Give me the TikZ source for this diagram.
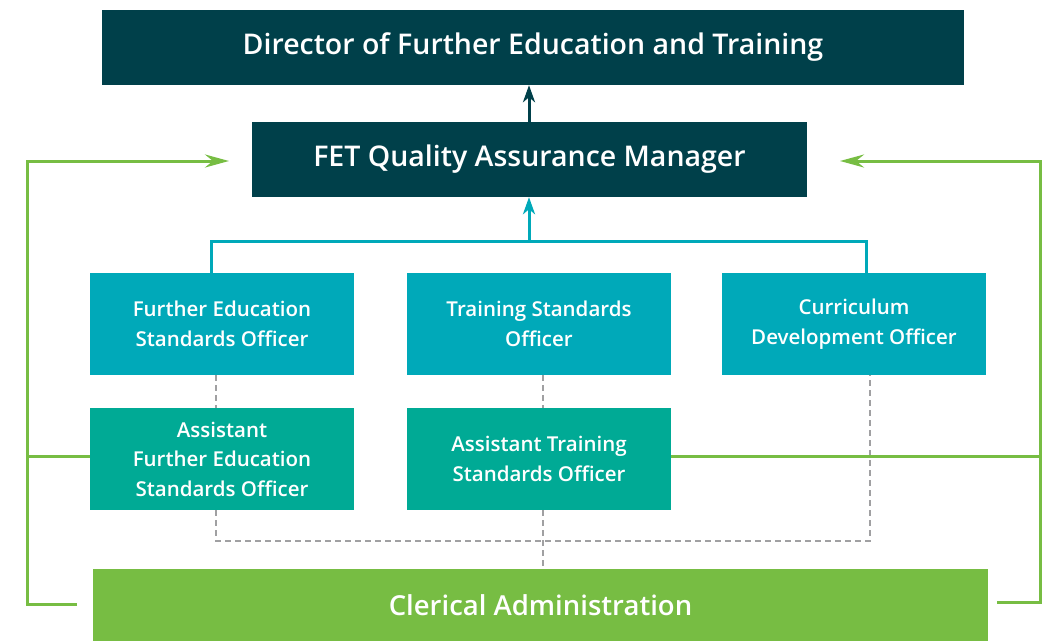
\documentclass[tikz,border=0pt]{standalone}
\usepackage{fontspec}
\setmainfont{Open Sans}[BoldFont={Open Sans Semibold}]
\usetikzlibrary{arrows.meta}

\definecolor{DarkTeal}{HTML}{00404A}
\definecolor{RowTeal}{HTML}{00A9B9}
\definecolor{RowSea}{HTML}{00AA95}
\definecolor{LeafGreen}{HTML}{77BD43}
\definecolor{DashGrey}{HTML}{A0A0A2}

\tikzset{
  headbox/.style={fill=DarkTeal, text=white, minimum height=75pt,
    font=\fontsize{28.5}{30}\selectfont\bfseries, inner sep=0pt},
  officer/.style={fill=RowTeal, text=white, minimum width=264pt, minimum height=102pt,
    align=center, inner sep=0pt, font=\fontsize{20.5}{29.5}\selectfont\bfseries},
  assistant/.style={officer, fill=RowSea},
  greenline/.style={draw=LeafGreen, line width=3pt},
  dashline/.style={draw=DashGrey, line width=2pt, dash pattern=on 6pt off 4pt}
}

\begin{document}
\begin{tikzpicture}[x=1pt, y=-1pt]
    \useasboundingbox (0,0) rectangle (1044,640);
    % top of the chart
    \node[headbox, minimum width=862pt] (dir) at (533,47.5) {Director of Further Education and Training};
    \node[headbox, minimum width=555pt] (qam) at (529.5,159.5) {FET Quality Assurance Manager};
    % officers
    \node[officer] (feso) at (222,324) {Further Education\\Standards Officer};
    \node[officer] (tso) at (539,324) {Training Standards\\Officer};
    \node[officer] (cdo) at (854,324) {Curriculum\\Development Officer};
    \node[assistant] (afeso) at (222,459) {Assistant\\Further Education\\Standards Officer};
    \node[assistant] (atso) at (539,459) {Assistant Training\\Standards Officer};
    \node[fill=LeafGreen, text=white, minimum width=895pt, minimum height=72pt, inner sep=0pt,
      font=\fontsize{27.5}{30}\selectfont\bfseries] (cler) at (540.5,605) {Clerical Administration};
    %
    \coordinate (bus) at (529,241);
    \draw[DarkTeal, line width=3pt, -{Stealth[length=17pt,width=12pt,inset=5pt]}] (qam.north -| bus) -- (dir.south -| bus);
    \draw[RowTeal, line width=3pt, -{Stealth[length=17pt,width=12pt,inset=5pt]}] (bus) -- (qam.south -| bus);
    \draw[RowTeal, line width=3pt] (feso.north -| 211,0) |- (bus) -| (cdo.north -| 866,0);
    %
    \draw[dashline] (feso.south -| 216,0) -- (afeso.north -| 216,0);
    \draw[dashline] (tso.south -| 543,0) -- (atso.north -| 543,0);
    \draw[dashline] (afeso.south -| 216,0) |- (870,541) -- (cdo.south -| 870,0);
    \draw[dashline] (atso.south -| 543,0) -- (cler.north -| 543,0);
    %
    \coordinate (lend) at (77,604);
    \coordinate (rend) at (997,602);
    \coordinate (ljoin) at (27,456);
    \coordinate (rjoin) at (1040,456);
    \draw[greenline, -{Stealth[length=24pt,width=13pt,inset=8pt]}] (lend) -| (ljoin) |- (229,161);
    \draw[greenline] (ljoin) -- (ljoin -| afeso.west);
    \draw[greenline, -{Stealth[length=24pt,width=13pt,inset=8pt]}] (rend) -| (rjoin) |- (840,161);
    \draw[greenline] (rjoin -| atso.east) -- (rjoin);
\end{tikzpicture}
\end{document}
